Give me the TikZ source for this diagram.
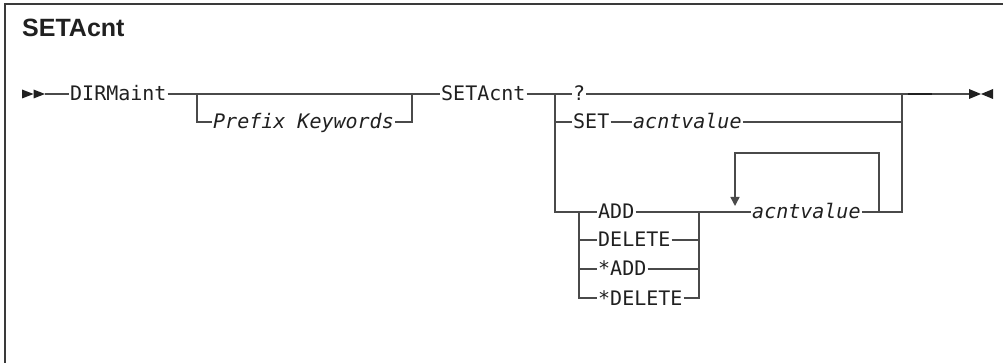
\documentclass[tikz,border=0pt]{standalone}
\usepackage{fontspec}
\usepackage{xcolor}
\usepackage{tikz}
\usetikzlibrary{arrows.meta, positioning}
\newfontfamily\railfont{DejaVu Sans Mono}
\newfontfamily\titlefont{Liberation Sans}
\definecolor{railGray}{HTML}{4A4A4A}
\definecolor{inkDark}{HTML}{202020}
\definecolor{frameGray}{HTML}{3A3A3A}

\begin{document}
\begin{tikzpicture}[x=1pt, y=-1pt,
    kw/.style={anchor=west, inner xsep=1pt, inner ysep=0pt, text height=15pt, text depth=1pt,
               font=\railfont\fontsize{20}{24}\selectfont, text=inkDark},
    var/.style={kw, font=\railfont\itshape\fontsize{20}{24}\selectfont},
    rail/.style={draw=railGray, line width=1.4pt},
    repeatarrow/.style={rail, -{Triangle[width=9pt, length=9pt]}},
    endmark/.style={fill=inkDark},
]
\useasboundingbox (0,0) rectangle (1003,363);
\draw[frameGray, line width=2pt] (5,364) -- (5,4) -- (1004,4);
\node[anchor=base west, inner sep=0pt, font=\titlefont\bfseries\fontsize{25}{30}\selectfont, text=inkDark] (title) at (22,37) {SETAcnt};
\node[kw] (dirm) at (69,94) {DIRMaint};
\node[var] (pfx) at (212,122) {Prefix Keywords};
\node[kw] (seta) at (440,94) {SETAcnt};
\node[kw] (qm) at (572,94) {?};
\node[kw] (set) at (572,122) {SET};
\node[var] (setval) at (632,122) {acntvalue};
\node[kw] (add) at (597,212) {ADD};
\node[kw] (del) at (597,240) {DELETE};
\node[kw] (sadd) at (597,269) {*ADD};
\node[kw] (sdel) at (597,298) {*DELETE};
\node[var] (val) at (751,212) {acntvalue};
\coordinate (start) at (45,94);
\coordinate (pkL) at (197,94);
\coordinate (pkR) at (412,94);
\coordinate (chL) at (555,94);
\coordinate (chR) at (902,94);
\coordinate (opL) at (579,212);
\coordinate (opR) at (699,212);
\coordinate (lpR) at (879,212);
\coordinate (lpTopR) at (879,153);
\coordinate (lpTopL) at (735,153);
\coordinate (lpTip) at (735,206);
\coordinate (stop) at (969,94);
\fill[endmark] (22,89.5) -- (33.5,94) -- (22,98.5) -- cycle;
\fill[endmark] (33.5,89.5) -- (45,94) -- (33.5,98.5) -- cycle;
\draw[rail] (start) -- (dirm);
\draw[rail] (dirm) -- (seta);
\draw[rail] (pkL) |- (pfx);
\draw[rail] (pfx) -| (pkR);
\draw[rail] (seta) -- (qm);
\draw[rail] (qm) -- (stop);
\draw[inkDark, line width=2.2pt] (908,94) -- (932,94);
\draw[rail] (chL) |- (set);
\draw[rail] (set) -- (setval);
\draw[rail] (setval) -| (chR);
\draw[rail] (chL) |- (add);
\draw[rail] (opL) |- (del);
\draw[rail] (opL) |- (sadd);
\draw[rail] (opL) |- (sdel);
\draw[rail] (add) -- (val);
\draw[rail] (del) -| (opR);
\draw[rail] (sadd) -| (opR);
\draw[rail] (sdel) -| (opR);
\draw[rail] (val) -| (chR);
\draw[repeatarrow] (lpR) -- (lpTopR) -- (lpTopL) -- (lpTip);
\fill[endmark] (969,89) -- (981,94) -- (969,99) -- cycle;
\fill[endmark] (993,89) -- (981,94) -- (993,99) -- cycle;
\end{tikzpicture}
\end{document}
